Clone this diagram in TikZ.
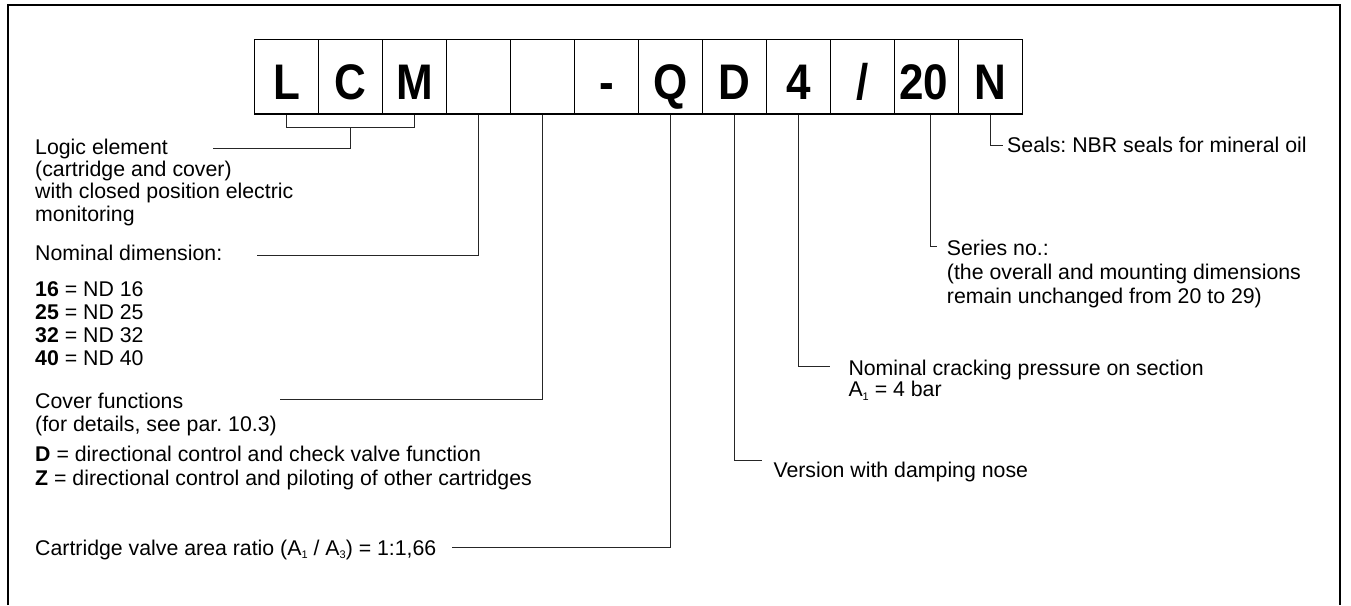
\documentclass[tikz,border=0pt]{standalone}
\usepackage{fontspec}
\usepackage{graphicx}
\setmainfont{Liberation Sans}
\usetikzlibrary{calc}
\frenchspacing
\newcommand\lowidx[1]{\raisebox{-3.5pt}{\fontsize{11}{11}\selectfont #1}}
\newcommand\cgl[1]{\scalebox{0.88}[1]{#1}}
\begin{document}
\begin{tikzpicture}[x=1pt,y=-1pt,
  txt/.style={anchor=base west, inner sep=0pt, font=\fontsize{21.3}{22}\selectfont},
  cell/.style={draw=black, line width=1.3pt, minimum width=64pt, minimum height=74.7pt, inner sep=0pt},
  glyph/.style={anchor=base, inner sep=0pt, font=\fontsize{50}{50}\selectfont\bfseries},
  conn/.style={draw=black!85, line width=1pt},
  outerframe/.style={draw=black, line width=1.5pt}]
\useasboundingbox (0,0) rectangle (1351,605);
% outer frame (open at the bottom)
\draw[outerframe] (8,605) -- (8,5) -- (1340,5) -- (1340,605);
% code boxes
\foreach \i in {1,...,12}
  \node[cell] (b\i) at ({286.5+64*(\i-1)},76.7) {};
\node[glyph] (g1)  at ($(b1.center)+(0,22.3)$)  {\cgl{L}};
\node[glyph] (g2)  at ($(b2.center)+(0,22.3)$)  {\cgl{C}};
\node[glyph] (g3)  at ($(b3.center)+(0,22.3)$)  {\cgl{M}};
\node[glyph] (g6)  at ($(b6.center)+(0,22.3)$)  {\cgl{-}};
\node[glyph] (g7)  at ($(b7.center)+(0,22.3)$)  {\cgl{Q}};
\node[glyph] (g8)  at ($(b8.center)+(0,22.3)$)  {\cgl{D}};
\node[glyph] (g9)  at ($(b9.center)+(0,22.3)$)  {\cgl{4}};
\node[glyph] (g10) at ($(b10.center)+(0,22.3)$) {\cgl{/}};
\node[glyph] (g11) at ($(b11.center)+(-3,22.3)$) {\cgl{20}};
\node[glyph] (g12) at ($(b12.center)+(0,22.3)$) {\cgl{N}};
% left texts
\node[txt] (t1a) at (35,154.5) {Logic element};
\node[txt] (t1b) at (35,176.7) {(cartridge and cover)};
\node[txt] (t1c) at (35,198.9) {with closed position electric};
\node[txt] (t1d) at (35,221.1) {monitoring};
\node[txt] (t2)  at (35,260)   {Nominal dimension:};
\node[txt] (t2a) at (35,296)   {\textbf{16} = ND 16};
\node[txt] (t2b) at (35,319)   {\textbf{25} = ND 25};
\node[txt] (t2c) at (35,342)   {\textbf{32} = ND 32};
\node[txt] (t2d) at (35,365)   {\textbf{40} = ND 40};
\node[txt] (t3a) at (35,408.3) {Cover functions};
\node[txt] (t3b) at (35,431.7) {(for details, see par. 10.3)};
\node[txt] (t3c) at (35,461.7) {\textbf{D} = directional control and check valve function};
\node[txt] (t3d) at (35,485)   {\textbf{Z} = directional control and piloting of other cartridges};
\node[txt] (t4)  at (35,555.3) {Cartridge valve area ratio (A\lowidx{1} / A\lowidx{3}) = 1:1,66};
% right texts
\node[txt] (t5)  at (773.3,477) {Version with damping nose};
\node[txt] (t6a) at (848.3,375) {Nominal cracking pressure on section};
\node[txt] (t6b) at (848.3,396.7) {A\lowidx{1} = 4 bar};
\node[txt] (t7a) at (946.7,255) {Series no.:};
\node[txt] (t7b) at (946.7,279.5) {(the overall and mounting dimensions};
\node[txt] (t7c) at (946.7,303.3) {remain unchanged from 20 to 29)};
\node[txt] (t8)  at (1007,152.7) {Seals: NBR seals for mineral oil};
% connector end points
\coordinate (e1) at (213,148);
\coordinate (e2) at (257,255);
\coordinate (e3) at (280,399);
\coordinate (e4) at (451.7,547.3);
\coordinate (e5) at (761.7,460);
\coordinate (e6) at (830,366.7);
\coordinate (e7) at (936.7,246.7);
\coordinate (e8) at (1003,145);
% connectors
\draw[conn] (b1.south) -- ++(0,12.5) coordinate (br) -| (b3.south);
\draw[conn] (b2.south |- br) |- (e1);
\draw[conn] (b4.south) |- (e2);
\draw[conn] (b5.south) |- (e3);
\draw[conn] (b7.south) |- (e4);
\draw[conn] (b8.south) |- (e5);
\draw[conn] (b9.south) |- (e6);
\draw[conn] ($(b11.south)+(4.2,0)$) |- (e7);
\draw[conn] (b12.south) |- (e8);
\end{tikzpicture}
\end{document}
